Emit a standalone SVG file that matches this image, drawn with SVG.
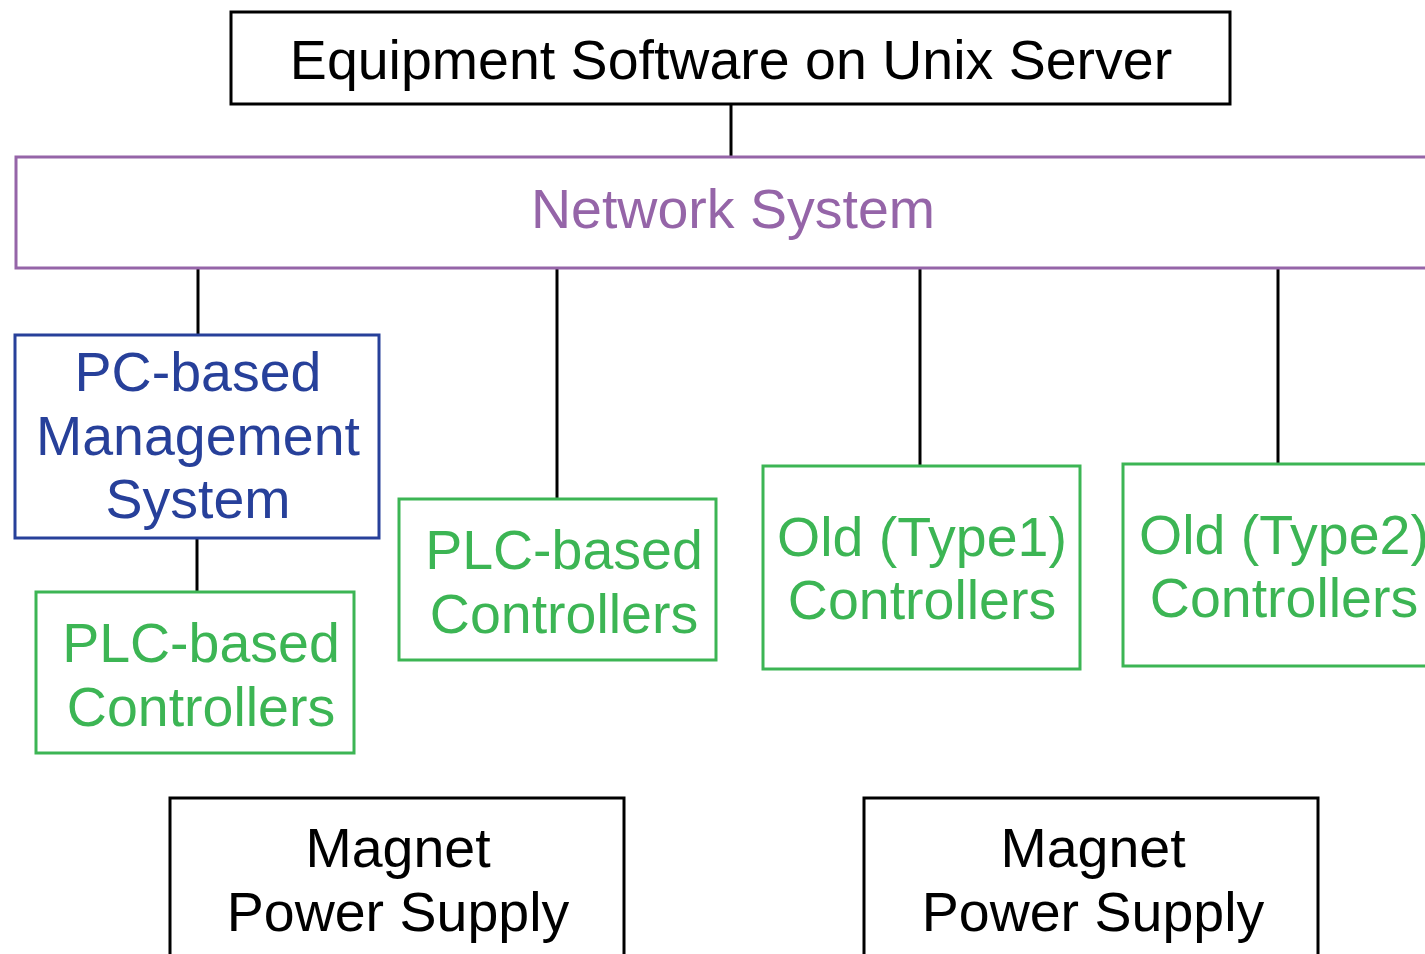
<svg xmlns="http://www.w3.org/2000/svg" width="1425" height="954" viewBox="0 0 1425 954">
  <style>
    .box { fill: #ffffff; stroke-width: 3; }
    .black { stroke: #000000; }
    .purple { stroke: #9565a8; }
    .blue { stroke: #27409a; }
    .green { stroke: #3cb554; }
    .lbl { font-family: "Liberation Sans", Arial, sans-serif; font-size: 55.5px; text-anchor: middle; }
    .t-black { fill: #000000; }
    .t-purple { fill: #9565a8; }
    .t-blue { fill: #27409a; }
    .t-green { fill: #3cb554; }
    .wire { stroke: #000000; stroke-width: 3; fill: none; }
  </style>
  <rect width="1425" height="954" fill="#ffffff"/>

  <g id="connectors">
    <line class="wire" x1="731" y1="104" x2="731" y2="157"/>
    <line class="wire" x1="198" y1="268" x2="198" y2="335"/>
    <line class="wire" x1="197" y1="538" x2="197" y2="592"/>
    <line class="wire" x1="557" y1="268" x2="557" y2="499"/>
    <line class="wire" x1="920" y1="268" x2="920" y2="466"/>
    <line class="wire" x1="1278" y1="268" x2="1278" y2="464"/>
  </g>

  <g id="unix-server">
    <rect class="box black" x="231" y="12" width="999" height="92"/>
    <text class="lbl t-black" x="731" y="79">Equipment Software on Unix Server</text>
  </g>

  <!-- the network bus runs past the right edge of the page -->
  <g id="network-system">
    <rect class="box purple" x="16" y="157" width="1430" height="111"/>
    <text class="lbl t-purple" x="733" y="228">Network System</text>
  </g>

  <g id="pc-management">
    <rect class="box blue" x="15" y="335" width="364" height="203"/>
    <text class="lbl t-blue" x="198" y="391">PC-based</text>
    <text class="lbl t-blue" x="198" y="455">Management</text>
    <text class="lbl t-blue" x="198" y="518">System</text>
  </g>

  <g id="plc-controllers-1">
    <rect class="box green" x="36" y="592" width="318" height="161"/>
    <text class="lbl t-green" x="201" y="662">PLC-based</text>
    <text class="lbl t-green" x="201" y="726">Controllers</text>
  </g>

  <g id="plc-controllers-2">
    <rect class="box green" x="399" y="499" width="317" height="161"/>
    <text class="lbl t-green" x="564" y="569">PLC-based</text>
    <text class="lbl t-green" x="564" y="633">Controllers</text>
  </g>

  <g id="old-type1">
    <rect class="box green" x="763" y="466" width="317" height="203"/>
    <text class="lbl t-green" x="922" y="556">Old (Type1)</text>
    <text class="lbl t-green" x="922" y="619">Controllers</text>
  </g>

  <g id="old-type2">
    <rect class="box green" x="1123" y="464" width="330" height="202"/>
    <text class="lbl t-green" x="1284" y="554">Old (Type2)</text>
    <text class="lbl t-green" x="1284" y="617">Controllers</text>
  </g>

  <g id="magnet-psu-1">
    <rect class="box black" x="170" y="798" width="454" height="180"/>
    <text class="lbl t-black" x="398" y="867">Magnet</text>
    <text class="lbl t-black" x="398" y="931">Power Supply</text>
  </g>

  <g id="magnet-psu-2">
    <rect class="box black" x="864" y="798" width="454" height="180"/>
    <text class="lbl t-black" x="1093" y="867">Magnet</text>
    <text class="lbl t-black" x="1093" y="931">Power Supply</text>
  </g>
</svg>
